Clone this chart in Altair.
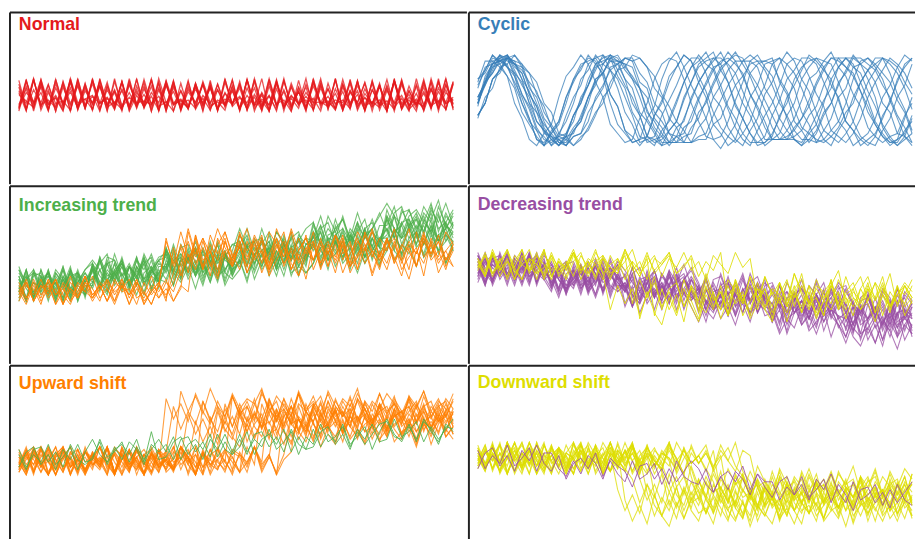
import altair as alt
import pandas as pd

N_POINTS = 60

# Each string is one series, one base-36 character per time step (0..z = level 0..35),
# groups separated by spaces only for readability.
NORMAL = [
    "3x8q1u5z2m 9s0w6k4y7p 2v0r5t1n8x 3h6z0o4u9c 2w7j1y5e8s 0v3m6q2z1t",
    "t2y5n0w8r3 z1q6v4k9x0 s7m2u5p1y8 g3w0r6z4l1 v9o2t5x0n7 q3y6j1w4s8",
    "ib4u7f1z9d 2r6k0x3o8g 5w1l9s4c7y 0p6h2v8e3t 9a5z1m7f4r 0x8i3u6b2w",
    "4kay2p9w6d h0s8m3z5g1 v7c4r0x2j8 t6f1y5n3q9 e0u7l2w6a4 s8h1z5o3kb",
    "x3n9t0q6w2 y8e4v1r7z5 a0u3o9s2k6 w1i5z8c0p4 y7g3t9m1x6 b2v5r0n8z3",
    "0r5w2y8l4u 1z6n3s9b7v 0q4x2h8t5m 1y3d7w0r6k 9z2o5u1j8s 3x7c0w4p9v",
    "m8z1k5v0t3 x9f2w6n4y0 s7b3u8q1z5 e9p2v6l0x4 r8a3y7i1w5 o0t6d2z9n4",
    "5y0s7h3x1p 8w4a2u6r0z 9l3v5e1t7n 2x0k6y4g8q 1s5c9w3o7u 0z2m6j4v8f",
    "q1x7c4t0z6 g8v2o5y3k9 w0m6r1u4d8 s2z7h0x5l3 v9b1q6w2n8 y4e0t7p3z1",
    "2w9k0y6p3t 7r1z4f8v0n 5x2o9u6a1s 3y8j0w4q7g 6t2z1m9v5c 0x3r8l6w2u",
    "k0z4s8b1y6 u3n7w0h5r2 x9d3t6q0v8 p1y5g2w7l0 z4o8c3s6u1 m9x2a5v0t7",
    "7o3y9e0v5r 1x8m2z6i4u 0s7c3w9n5q 2y6b0t4h8z 1p5x3k9u0r 6w2f7y4l8d",
]

CYCLIC = [
    "hquxtojc537b jotwvqha745c gpvytnic526a iruvwokb847d hnsxupj9536c",
    "jouvwqkf8637b hpsxusmea456d intwwrjg9538c kouyvple8647b ioswurmf",
    "gpuvxsnjb8356d insxvuphd6538b jouwysogc7446d hptvwtnjb8357c iouw",
    "hntwxtrkg95367d jprvvupmeb7449b iotuyvqkf95568c gnswwtrlga6357d",
    "horwxutmjc94367e imtuwwrohe76449c jnsvvvtmic85358e horwwusnjd94",
    "nsxuqmea638bj puvwskg8456dh otxvqle9647bi nuwurmga538cj oswwrkf8",
    "dhpswvunhb6538 bjnuxwspjc8446 ciosvytnhd7357 dhptwvuoib6438 cjnu",
    "prwvtrkg95467dh ntuxvpmeb7349bj oswwurlfa5558ci prvytqkg96467dh",
    "ovvtqhc537aj qtxuoja745ch puwvphb656bi ovxtqjc537ah ptwuoib745cj",
    "mtuxwrohe76359cj orwvutmjc94467eh nsvxwrnid85548di mtwwusohe763",
    "jnsxvuphb8536d hpuwxsnjd6458b iotvwuohc7347c jnsxvspib8536d hptw",
    "iotuwvplea7448b hprwxtqmf96367d jnsvwurkgb5559c iotwvtqlea6448b",
    "horvwusolea65368d jmstxwtqkgb8455ac inquvvuplf975469e hosuwvtok",
    "dhpsxurkg8637 bjnuvwqmea456 ciotxuslf9538 dhnuwvqkg8647 cjoswurm",
    "cjmtuxurohe76359 ehoswvwtmjc94467 dinrvxvsnhd85548 cjmtuwuroie7",
    "psxvunhb8356dj nuwxspjd6538bh otvytngc7446di pswwuoib8357cj ntxv",
    "dhprwxtrkg95367 bjnsuwvomeb7449 ciotvyuqkf95568 dgnswwtrlga6357",
    "jovwtqhc547a hpsxurkg8636d iqtxvoja735c jnuvwqmea458b hpvwtpic64",
]

INC_TREND = [
    "a385c47b29 9f6ceag7d8 jdagbif9he djleickgmf lfnoimgpjh ltmoskqlpt",
    "5b28a6c394 e85b6da4c9 8eg9d7fbha f9hicgajdb emfhldjeim mfkhogjnel",
    "d74a5c93b8 9eh8d7fcha hbjkeiclfd hpikogmhlp rkpmtlosjq qwntvrxoup",
    "39b482a6c5 c6ef9d7ga8 ckdfjbhcgk lejgnfimdk kqhnplrioj vpmsnurltq",
    "82ab593c64 7f8ae6c7bf g9ebiadh8f ekbhjflcid oiflgnkemj ioqjnhplrk",
    "4c57b3948c e7c9g8bf6d djagiekbhc nielhokfmi jprkoiqmsl smuvptnwqo",
    "9386c46b28 d84b7da5c8 d7fgae8hb9 ci9fhdjagb ejkdiclgme iphlognilo",
    "29c583a5b6 8g9bf7d8cg hafcjbei9g jdlmgkenhf qkhnipmgol ntkqsoulrm",
    "72ba493c75 d6b8f7ae5c 9fhae8gcib fmeildkfim ioflnjpgmh smjpkroiqn",
    "6c39b7d4a5 c7gfae9hc8 jcheldgkbi pjgmholfnk mtlpskrmpu ouwptnvrxq",
    "c6394b82a7 7gabf6d9cf biafhcj9gc ekldjclfmg ngliphkofm pjrsmqktnl",
    "5c48b2958b 6ce7b5d9f8 ic9fahe8gd ibgdkcfjah kdmlgjenif jpgmokqhni",
    "92b6a4c57b 8c5e7a4bd6 fb8d6eag7c f8hcgaibdh fjclehbikd mifkdlhnej",
    "6a3c5829b4 ea7c5d9f6b e7gbf9hacg jfchaiekbg kdmhlfngim kohqjmgnpi",
    "b7492a6c38 c5e9d7f8ae cg9ibe8fha gkdmficjle okhmfnjpgl pirmqkslnr",
    "a3c7b5d68c fc8e6dag8b dhajcf9gib ldmilengjm logqjnhmpj tpmrksoulq",
    "5a4c682ab3 d6fae8g9bf ifbhajekcg njglemiofk mqjsloiprk tmvquowprv",
    "c85a3b7d49 bf8had7eg9 ibkfjdlegk jngpilfmoh rktosmunpt xtqvowsypu",
]

INC_OVERLAY = [  # upward-shift series drawn over the increasing-trend panel
    "3827591648 3729561847 mdjbnficle ogkbhmdjfn cilekbgnhd mfjcogkeil",
    "629471853a 4728693517 48ephmdkog lfnidpjfmh oekgndlipf jmekhogldi",
    "5173946285 a361749258 3bkemcialf jdmhbkeiag lcjfmdhkbi elcgjamfid",
    "4926815a37 2694816375 926ogmhpjf nileokgpim flhnjeokgm ipflhnjgok",
    "7382694175 3862947158 2jahcle9id kbglafjch9 keibldgjah ckf9ielbgd",
    "5827491638 62957184a3 6275ndkfoh clgmejocim fkdnhlcjog mekidnhlfj",
    "274936185a 4726938517 leogjcnhmd kpficmgoej ldhnfkcoig mejpdlhnfk",
    "836194725a 3682749163 85clejamgd kbinchleaj fmdkbhmeic lgajdmfick",
]

DEC_TREND = [
    "votqxpswnu msjprntkql qkhnipmgol ekmfjdlhng gaijdhbkec 8g9bf7d8cg",
    "wqntovsmur oiqrlpjsmk mfkhogjnel dlegkcidhl ag6dfbi7e9 3ad492c6e5",
    "qwntvrxoup lrtmqksoun kslnrjpkos ngliphkofm nhdkfmjclh g9ikdhblec",
    "ntvosmuqwp rkpmtlosjq lfnoimgpjh mgdjelickh aibdh8faej 7f4be9g5c6",
    "tnvwquoxrp uolrmtqksp kqhnplrioj gohjnflgko cikdhbjfle g9ebiadh7f",
    "pxqswouptx rltuosmvpn kqslpjrntm jpgmokqhni mfkhogjnel mgdjelickh",
    "unspworvmt ltmoskqlpt pjgniqlhok icklfjdmge ci9fhdjagb 5cf6b4e8g7",
    "xroupwtnvs nskpqmtjqm mgopjnhqki lejgnfimdk ckdfjbhcgk d7fgae8hb9",
    "pvmsuqwnto qjolsknrip flngkemioh kebhcjgaif e7gf9d8hc9 5d68c4a59d",
    "ouwptnvrxq tokrnuqlso pinkrjmqho ioflnjpgmh emfhldjeim f9hicgajdb",
    "smuvptnwqo kslnrjpkos gmdjlhnekf agibf9hdjc d6b8f7ae5c b5283a7196",
    "wptrxosvnu msunrltpvo lskorjqlor mgopjnhqki gmdjlhnekf lfcidkhbjg",
    "tmvquowprv mqjsloiprk njglemiofk hajeickdfj ae7g9c6df8 c85a3b7d49",
    "qunwpsmtvo solqjrntkp mfojnhpiko lhejckgmdi g9idhbjcei af6g8c5de8",
    "wspunvrxot rktosmunpt kohqjmgnpi hlengjdkmf jfchaiekbg e7gbf9hacg",
    "unwrvpxqsw tpmrksoulq lpirknhoqj lenimgohjn kgdibjflch dhajcf9gib",
    "rvoxqtnuwp sluptnvoqu rnkpiqmsjo kohqjmgnpi lenimgohjn kgdibjflch",
    "vrotmuqwns nrktmpjqsl ngpkoiqjlp lhejckgmdi dhajcf9gib d6fae8g9bf",
]

DEC_OVERLAY = [  # downward-shift series drawn over the decreasing-trend panel
    "vpxruowsqy purxotvqem glcjnfkdoh bliemgjcnf khdlogicmj ekhndlfjgm",
    "sxqvouyrtp wsouxqtvps wgoipelnfm hqjeokgpil fnhqjemkgo iflphmejnk",
    "uqyspwtrxo vqtyrupwsq xtpvclejam gdkbinchle ajfmdkbhme iclgajdmfi",
    "rwpuysovtq xrupwsyqtv ourxqtwnfl eohkdmgpie ljofmhdkng pielhnfjmg",
    "tpxrvouyqs wptxruovsq ytpwruxqtv dmfkcohelj bngkdmicof jlehnckgmi",
    "vrxpusyqwt ovrxtpuwqs yruovtxqsw purxfohmep jgniqflhoe kngmipfljo",
    "swquxrovty pusxqvtowr uyqtwpvsxr uowtqxsvhp jnfqkgoimr glphnjqfmi",
    "upwsyqtvox rupwsqxtov rubkd9iclf ajemchkbgl diajfmchek bigldjfmch",
]

UP_SHIFT = [
    "3a5c28b491 7c3a62b594 vntmxqluow psmxrnvltq wosmupxrlt nvqsmwourp",
    "6194b72a58 3c6917b482 asjqlunirk tmpjuoksiq mtlrjpunks ioqltnjrmp",
    "82b5917c4a 6391b582c6 4a7phngrjf oiqkmfqlhp gnjrimfokq hlngpjmirk",
    "491b63a72c 581a4b6297 3c581umslw pktnvorlxq muksovnrlt pwmquksovr",
    "72a5c381b6 94c27a5193 b682c47qio hskgpjrlng smiqhokrjn gplsimohqk",
    "5b296c381a 74b295c618 a37b492c6w ounyrmvpxq tnysowmuqx ptnvryosum",
    "93c61a482b 57c193a62b 84c51973a6 2ogmfqienh pjleqkgofm iphlenjqgk",
    "285b19c473 a61c82b594 7c3a619b48 2c5tlrkvnj smuoqkvplt jrnumqksov",
    "6a3c7195b2 84c61a397b 25c84a17b3 96c28rjpit lhqksmoitn jrhplskoiq",
    "4b72a5c183 96b2c471a5 83c692b471 a5c3829nfl ephdmgoike pjfndlhogk",
    "a38c16b492 7c51a38b62 94c71a53b8 26c4917ask qjumirltnp juoksiqmtl",
    "5c28b4a173 96c2b581a4 73c6mekdog clfnhjdoie mckgnfjdlh oeikcmgnjf",
    "492b618c3a 572b94c16a 38yqwpzsox rvtzpwsoyr uqxpvszour xtpwsyqvou",
    "83b619c472 a581c639b4 72a5c1ofmh qelpgnidok fqjmephlnf jqgmiodlph",
    "27b491c63a 85c27b194a 63c82b59tk rmvjqulsni tpkvorjumq skovlrntiq",
    "b5927c3a61 8c492b61a5 73c8194b62 ripkthosjq lgrnitmphs koqimtjplr",
    "61a4c729b3 85c17a492b 63c81a572b 94c6vmtoxl swnupkvrmx qtlwosumqx",
    "39c518b27a 4c6193b82a 57c194b63a 82c591pgni rfmqhojepl grknfqimoh",
]

UP_OVERLAY = [  # increasing-trend series drawn over the upward-shift panel
    "b496d58c3a f96c7eb5da d7fgae8hb9 ci9fhdjagb cikdhbjfle fngimekfjn",
    "4ac593b7d6 7f8ae6c7bf ag7dfbh8e9 f9hicgajdb jcheldgkbi nhekfmjdli",
    "93bc6a4d75 8e5bd9f6i7 8eg9d7fbha hafcjbei9g dlegkcidhl mgfleniekj",
]

DOWN_SHIFT = [
    "wounyrmvpx qtnysowmug 8e7ia6f9hb d7ic8g6eah 9d7fbi8ce6 gahd8fbi9c",
    "tnxqvmsypu owrmuqxntv c4a3e62b5d 793e84c2a6 d593b7e48a 2c6d94b7e5",
    "qvoxsnupyr mwtovqxsnu pwkcibmeaj dlfhbmgcka ieldhbjfmc giakelhcjf",
    "upxmsvoyrn twqmxspunv ryote6c5g8 4d7f9b5ga6 e4c8f7b5d9 g6ac4e8fb6",
    "rxoumtypvq nwsouxmrvp tynswqiag9 kc8hbjdf9k eai8gcjbf9 hdkaeg8icj",
    "vqyntwpsmx ruoyqvntwp sxmurovqme kdogclfnhj doiemckgnf jdlhoeikcm",
    "sowrynuqxt mvpsyotwnr uxqmvspyto f7d6h95e8g ac6hb7f5d9 g8c6eah7bd",
    "pvrymtxquo wsnvqytmrx puowsnyrvq tojbhald9i ckegalfbj9 hdkcgaielb",
    "xqunsypvmt rwoxsmuqyp vntwroxsmu qvptd5b4f7 3c6e8a4f95 d3b7e6a4c8",
    "towqynsvpx rmuyotwqnv sxpumryovq txnswpldjc nfbkemgicn hdlbjfmeic",
    "qwousyntxp vrmuyqtows nxrvptymsw quoxrnvth9 f8jb7gaice 8jd9h7fbia",
    "vptxnsyquo wrmtxpvsny quowrnflep hdmgoikepj fndlhogkem ipfjldnhok",
    "pvsnxrumyq twosvpxmur okbidmahlc je9kgbmfia ldhjbfmcie k9hldgajcm",
    "uoxrmvqysn wptmxruoyq vnsf6d8h5c g7e94fb6ha d5g8ce6ah7 d9f4cg8b5e",
    "rxnupysmvq toxrvmupys nwqtovrh8f aj7ei9gb6h d8jcf7iaeg 8cj9fbh6ei",
    "wqtnysovrm xpusnwqyto vmrxpusnwl cjenbimdkf alhcngjbme ikcgndjfla",
    "snwqytovmr xpusnwqtyo vrmxpusowq tnve5c7g4b f6d83ea5g9 c4f7bd59g6",
    "ourxmtpwsy nvqtxosmuq yrvntpwsmx quovrynjah cl9gkbid8j faleh9kcgi",
]

DOWN_OVERLAY = [  # decreasing-trend series drawn over the downward-shift panel
    "votqxpswnu uolrmtqksp nhpqkoirlj ioflnjpgmh djleickgmf bjceiagbfj",
    "ouwptnvrxq ntkqsoulrm jrkmqiojnr oiflgnkemj jcheldgkbi e8ghbf9ica",
]

TITLES = ["Normal", "Cyclic", "Increasing trend", "Decreasing trend",
          "Upward shift", "Downward shift"]

RED, BLUE, GREEN = "#e41a1c", "#377eb8", "#4daf4a"
PURPLE, ORANGE, YELLOW = "#984ea3", "#ff7f00", "#dede00"


def to_frame(lines, tag):
    rows = []
    for i, s in enumerate(lines):
        vals = [int(c, 36) for c in s.replace(" ", "")][:N_POINTS]
        for t, v in enumerate(vals):
            rows.append({"t": t, "v": v, "line": f"{tag}{i}"})
    return pd.DataFrame(rows)


def panel(title, color, main, xdom, ydom, w, h, title_y,
          overlay=None, ocolor=None, main_width=1.1):
    xs = alt.X("t:Q", scale=alt.Scale(domain=xdom, nice=False, zero=False), axis=None)
    ys = alt.Y("v:Q", scale=alt.Scale(domain=ydom, nice=False, zero=False), axis=None)
    layers = [
        alt.Chart(to_frame(main, "m")).mark_line(
            color=color, strokeWidth=main_width, opacity=0.75
        ).encode(x=xs, y=ys, detail="line:N")
    ]
    if overlay:
        layers.append(
            alt.Chart(to_frame(overlay, "o")).mark_line(
                color=ocolor, strokeWidth=1.0, opacity=0.85
            ).encode(x=xs, y=ys, detail="line:N")
        )
    edge = pd.DataFrame({"k": [0]})
    layers.append(alt.Chart(edge).mark_rule(color="#222222", strokeWidth=2).encode(
        x=alt.value(0), y=alt.value(0), y2=alt.value(h)))
    layers.append(alt.Chart(edge).mark_rule(color="#222222", strokeWidth=2).encode(
        x=alt.value(0), x2=alt.value(w), y=alt.value(0)))
    layers.append(
        alt.Chart(pd.DataFrame({"label": [title]})).mark_text(
            align="left", baseline="alphabetic", font="Liberation Sans",
            fontSize=18, fontWeight="bold", color=color
        ).encode(x=alt.value(9), y=alt.value(title_y), text="label:N")
    )
    return alt.layer(*layers).properties(width=w, height=h)


WL, WR = 463, 452
XL = [-1.207, 60.87]
XR = [-1.207, 59.40]
H1, H2, H3 = 174, 180, 177

p1 = panel(TITLES[0], RED, NORMAL, XL, [-78.5, 106.0], WL, H1, 18, main_width=1.3)
p2 = panel(TITLES[1], BLUE, CYCLIC, XR, [-9.81, 47.11], WR, H1, 18)
p3 = panel(TITLES[2], GREEN, INC_TREND, XL, [-17.81, 38.44], WL, H2, 25,
           INC_OVERLAY, ORANGE)
p4 = panel(TITLES[3], PURPLE, DEC_TREND, XR, [-3.93, 54.95], WR, H2, 24,
           DEC_OVERLAY, YELLOW)
p5 = panel(TITLES[4], ORANGE, UP_SHIFT, XL, [-24.89, 43.95], WL, H3, 23,
           UP_OVERLAY, GREEN)
p6 = panel(TITLES[5], YELLOW, DOWN_SHIFT, XR, [-3.39, 63.23], WR, H3, 22,
           DOWN_OVERLAY, PURPLE)

chart = alt.concat(p1, p2, p3, p4, p5, p6, columns=2, spacing=0).properties(
    padding={"left": 1, "top": 0, "right": 0, "bottom": 0},
    background="white",
).configure_view(strokeWidth=0)

chart.save("out.html", embed_options={"renderer": "svg", "actions": False})
